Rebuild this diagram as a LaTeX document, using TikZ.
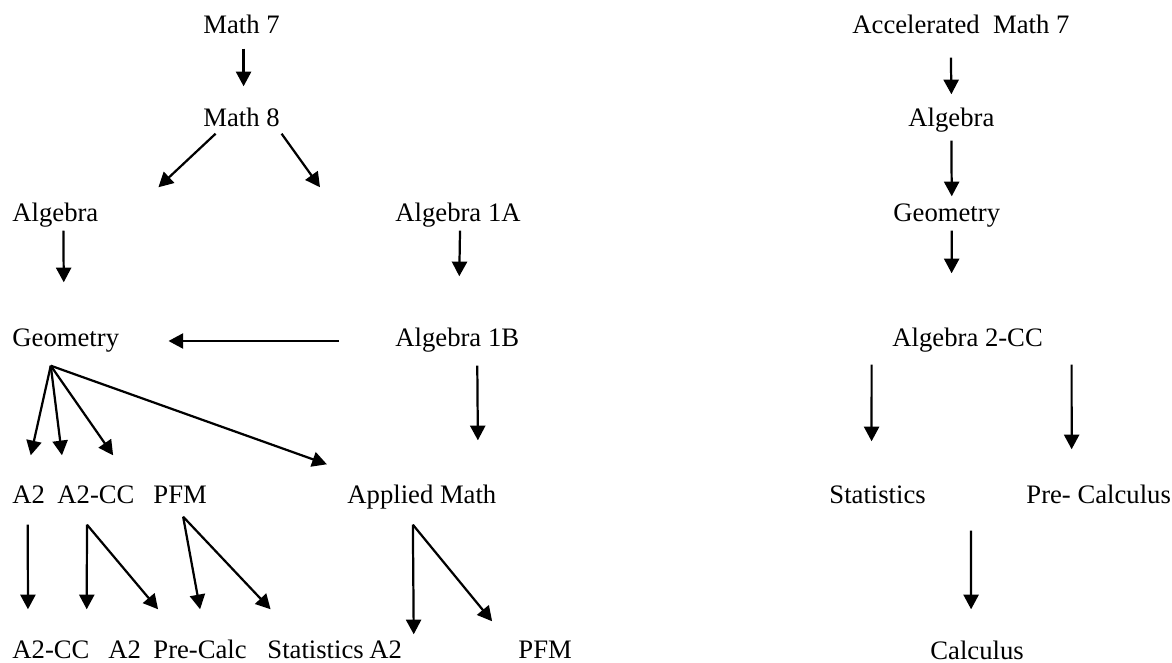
\documentclass[tikz,border=0pt]{standalone}
\usepackage{fontspec}
\setmainfont{Liberation Serif}
\usepackage{tikz}
\usetikzlibrary{arrows.meta,calc}

\begin{document}
\begin{tikzpicture}[x=0.45pt,y=-0.45pt,
  corso/.style={anchor=west, inner sep=0pt, font=\fontsize{12}{14}\selectfont,
    text height=8.4pt, text depth=2.64pt},
  freccia/.style={-{Triangle[length=6.6pt,width=6.8pt]}, line width=1pt}]

% Cornice della figura
\useasboundingbox (0,0) rectangle (1172,663);

% Percorso standard
\node[corso] (m7) at (203,27) {Math 7};
\node[corso] (m8) at (203,120) {Math 8};
\node[corso] (alg) at (12,215) {Algebra};
\node[corso] (alg1a) at (395,215) {Algebra 1A};
\node[corso] (geo) at (12,340) {Geometry};
\node[corso] (alg1b) at (395,340) {Algebra 1B};
\node[corso] (a2) at (12,497) {A2};
\node[corso] (a2cc) at (57,497) {A2-CC};
\node[corso] (pfm) at (153,497) {PFM};
\node[corso] (app) at (347,497) {Applied Math};
\node[corso] (fa2cc) at (12,652) {A2-CC};
\node[corso] (fa2) at (108,652) {A2};
\node[corso] (fprec) at (153,652) {Pre-Calc};
\node[corso] (fstat) at (267,652) {Statistics};
\node[corso] (fapa2) at (369,652) {A2};
\node[corso] (fpfm) at (518,652) {PFM};

% Percorso accelerato
\node[corso] (acc) at (852,27) {Accelerated\ \ Math 7};
\node[corso] (ralg) at (908,120) {Algebra};
\node[corso] (rgeo) at (893,215) {Geometry};
\node[corso] (ralg2) at (892,340) {Algebra 2-CC};
\node[corso] (rstat) at (829,497) {Statistics};
\node[corso] (rpre) at (1026,497) {Pre- Calculus};
\node[corso] (rcalc) at (930,653) {Calculus};

% Frecce - percorso standard
\draw[freccia] ($(m7.south)+(2,9)$) -- ($(m8.north)+(2,-21)$);
\draw[freccia] ($(m8.south)+(-26,1)$) -- ($(alg.north)+(103,-15)$);
\draw[freccia] ($(m8.south)+(40,1)$) -- ($(alg1a.north)+(-138,-15)$);
\draw[freccia] ($(alg.south)+(8,3)$) -- ($(geo.north)+(-2,-45)$);
\draw[freccia] ($(alg1a.south)+(2,3)$) -- ($(alg1b.north)+(2,-51)$);
\draw[freccia] ($(alg1b.west)+(-56,1)$) -- ($(geo.east)+(49,1)$);
\draw[freccia] ($(alg1b.south)+(20,13)$) -- ($(app.north)+(56,-44)$);

% Ventaglio da Geometry
\coordinate (geoF) at ($(geo.south)+(-15,13)$);
\draw[freccia] (geoF) -- ($(a2.north)+(2,-29)$);
\draw[freccia] (geoF) -- ($(a2cc.north)+(-34,-29)$);
\draw[freccia] (geoF) -- ($(pfm.north)+(-67,-29)$);
\draw[freccia] (geoF) -- ($(app.north)+(-95,-20)$);

% Ultima riga
\draw[freccia] ($(a2.south)+(-1,15)$) -- ($(fa2cc.north)+(-23,-30)$);
\coordinate (a2ccF) at ($(a2cc.south)+(-9,15)$);
\draw[freccia] (a2ccF) -- ($(fa2.north)+(-38,-30)$);
\draw[freccia] (a2ccF) -- ($(fprec.north)+(-42,-30)$);
\coordinate (pfmF) at ($(pfm.south)+(3,7)$);
\draw[freccia] (pfmF) -- ($(fprec.north)+(0,-30)$);
\draw[freccia] (pfmF) -- ($(fstat.north)+(-45,-30)$);
\coordinate (appF) at ($(app.south)+(-9,15)$);
\draw[freccia] (appF) -- ($(fapa2.north)+(28,-5)$);
\draw[freccia] (appF) -- ($(fpfm.north)+(-53,-18)$);

% Frecce - percorso accelerato
\draw[freccia] ($(acc.south)+(-10,18)$) -- ($(ralg.north)+(0,-13)$);
\draw[freccia] ($(ralg.south)+(0,8)$) -- ($(rgeo.north)+(5,-6)$);
\draw[freccia] ($(rgeo.south)+(5,3)$) -- ($(ralg2.north)+(-16,-54)$);
\draw[freccia] ($(ralg2.south)+(-96,12)$) -- ($(rstat.north)+(-6,-43)$);
\draw[freccia] ($(ralg2.south)+(104,12)$) -- ($(rpre.north)+(-27,-35)$);
\draw[freccia] ($($(rstat.south east)!0.5!(rpre.south west)$)+(-5,21)$) -- ($(rcalc.north)+(-6,-31)$);

\end{tikzpicture}
\end{document}
